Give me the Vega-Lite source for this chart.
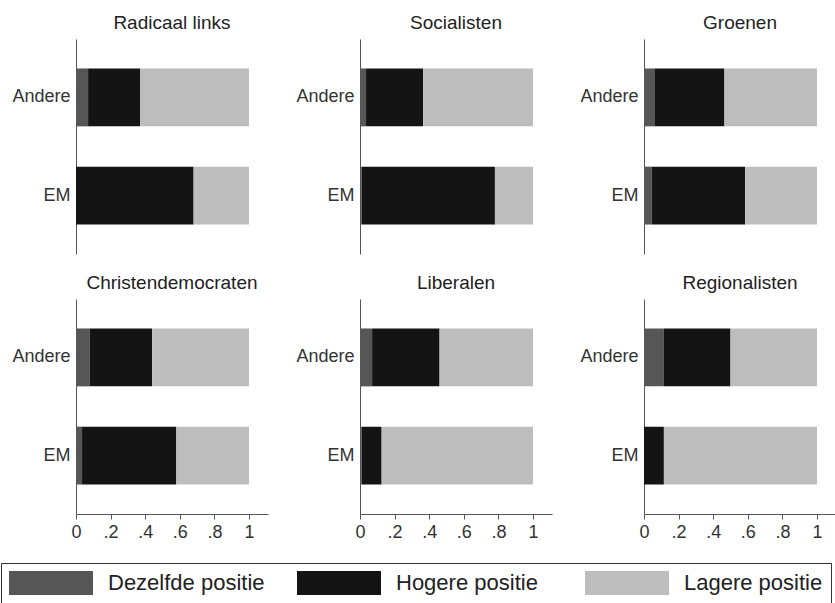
{
  "$schema": "https://vega.github.io/schema/vega-lite/v6.json",
  "background": "white",
  "padding": {"left": 0, "top": 14, "right": 0, "bottom": 0},
  "data": {
    "values": [
      {"party": "Radicaal links", "group": "Andere", "position": "Dezelfde positie", "share": 0.07},
      {"party": "Radicaal links", "group": "Andere", "position": "Hogere positie", "share": 0.30},
      {"party": "Radicaal links", "group": "Andere", "position": "Lagere positie", "share": 0.63},
      {"party": "Radicaal links", "group": "EM", "position": "Dezelfde positie", "share": 0.0},
      {"party": "Radicaal links", "group": "EM", "position": "Hogere positie", "share": 0.68},
      {"party": "Radicaal links", "group": "EM", "position": "Lagere positie", "share": 0.32},
      {"party": "Socialisten", "group": "Andere", "position": "Dezelfde positie", "share": 0.035},
      {"party": "Socialisten", "group": "Andere", "position": "Hogere positie", "share": 0.33},
      {"party": "Socialisten", "group": "Andere", "position": "Lagere positie", "share": 0.635},
      {"party": "Socialisten", "group": "EM", "position": "Dezelfde positie", "share": 0.01},
      {"party": "Socialisten", "group": "EM", "position": "Hogere positie", "share": 0.77},
      {"party": "Socialisten", "group": "EM", "position": "Lagere positie", "share": 0.22},
      {"party": "Groenen", "group": "Andere", "position": "Dezelfde positie", "share": 0.06},
      {"party": "Groenen", "group": "Andere", "position": "Hogere positie", "share": 0.405},
      {"party": "Groenen", "group": "Andere", "position": "Lagere positie", "share": 0.535},
      {"party": "Groenen", "group": "EM", "position": "Dezelfde positie", "share": 0.045},
      {"party": "Groenen", "group": "EM", "position": "Hogere positie", "share": 0.54},
      {"party": "Groenen", "group": "EM", "position": "Lagere positie", "share": 0.415},
      {"party": "Christendemocraten", "group": "Andere", "position": "Dezelfde positie", "share": 0.08},
      {"party": "Christendemocraten", "group": "Andere", "position": "Hogere positie", "share": 0.36},
      {"party": "Christendemocraten", "group": "Andere", "position": "Lagere positie", "share": 0.56},
      {"party": "Christendemocraten", "group": "EM", "position": "Dezelfde positie", "share": 0.035},
      {"party": "Christendemocraten", "group": "EM", "position": "Hogere positie", "share": 0.545},
      {"party": "Christendemocraten", "group": "EM", "position": "Lagere positie", "share": 0.42},
      {"party": "Liberalen", "group": "Andere", "position": "Dezelfde positie", "share": 0.07},
      {"party": "Liberalen", "group": "Andere", "position": "Hogere positie", "share": 0.39},
      {"party": "Liberalen", "group": "Andere", "position": "Lagere positie", "share": 0.54},
      {"party": "Liberalen", "group": "EM", "position": "Dezelfde positie", "share": 0.01},
      {"party": "Liberalen", "group": "EM", "position": "Hogere positie", "share": 0.115},
      {"party": "Liberalen", "group": "EM", "position": "Lagere positie", "share": 0.875},
      {"party": "Regionalisten", "group": "Andere", "position": "Dezelfde positie", "share": 0.115},
      {"party": "Regionalisten", "group": "Andere", "position": "Hogere positie", "share": 0.385},
      {"party": "Regionalisten", "group": "Andere", "position": "Lagere positie", "share": 0.50},
      {"party": "Regionalisten", "group": "EM", "position": "Dezelfde positie", "share": 0.0},
      {"party": "Regionalisten", "group": "EM", "position": "Hogere positie", "share": 0.115},
      {"party": "Regionalisten", "group": "EM", "position": "Lagere positie", "share": 0.885}
    ]
  },
  "facet": {
    "field": "party",
    "type": "nominal",
    "sort": ["Radicaal links", "Socialisten", "Groenen", "Christendemocraten", "Liberalen", "Regionalisten"],
    "title": null,
    "header": {"labelFontSize": 19, "labelColor": "#222", "labelPadding": 6, "labelFont": "Liberation Sans"}
  },
  "columns": 3,
  "spacing": {"row": 20, "column": 27},
  "resolve": {"axis": {"y": "independent"}},
  "spec": {
    "width": 192,
    "height": 215,
    "mark": {"type": "bar"},
    "encoding": {
      "y": {
        "field": "group",
        "type": "nominal",
        "sort": ["Andere", "EM"],
        "title": null,
        "scale": {"paddingInner": 0.41, "paddingOuter": 0.3},
        "axis": {"ticks": false, "domainColor": "#555", "labelFontSize": 18, "labelColor": "#333", "labelPadding": 6, "labelFont": "Liberation Sans"}
      },
      "x": {
        "field": "share",
        "type": "quantitative",
        "stack": "zero",
        "title": null,
        "scale": {"domain": [0, 1.11], "nice": false},
        "axis": {
          "values": [0, 0.2, 0.4, 0.6, 0.8, 1],
          "grid": false,
          "tickSize": 5,
          "tickColor": "#555",
          "domainColor": "#555",
          "labelFontSize": 18,
          "labelColor": "#333",
          "labelPadding": 4,
          "labelFlush": false,
          "labelFont": "Liberation Sans",
          "labelExpr": "datum.value == 0 ? '0' : datum.value >= 1 ? '1' : substring(format(datum.value, '.1f'), 1)"
        }
      },
      "color": {
        "field": "position",
        "type": "nominal",
        "scale": {
          "domain": ["Dezelfde positie", "Hogere positie", "Lagere positie"],
          "range": ["#565656", "#141414", "#bdbdbd"]
        },
        "legend": {
          "title": null,
          "orient": "none",
          "legendX": -75,
          "legendY": 524,
          "direction": "horizontal",
          "columns": 3,
          "gridAlign": "all",
          "columnPadding": 32,
          "symbolType": "M-1,-1H6V1H-1Z",
          "symbolSize": 576,
          "symbolStrokeWidth": 0,
          "symbolOpacity": 1,
          "labelFontSize": 22,
          "labelOffset": 75,
          "labelLimit": 300,
          "labelColor": "#222",
          "labelFont": "Liberation Sans",
          "strokeColor": "#333",
          "padding": 8
        }
      }
    }
  },
  "config": {"view": {"stroke": null}, "font": "Liberation Sans"}
}
